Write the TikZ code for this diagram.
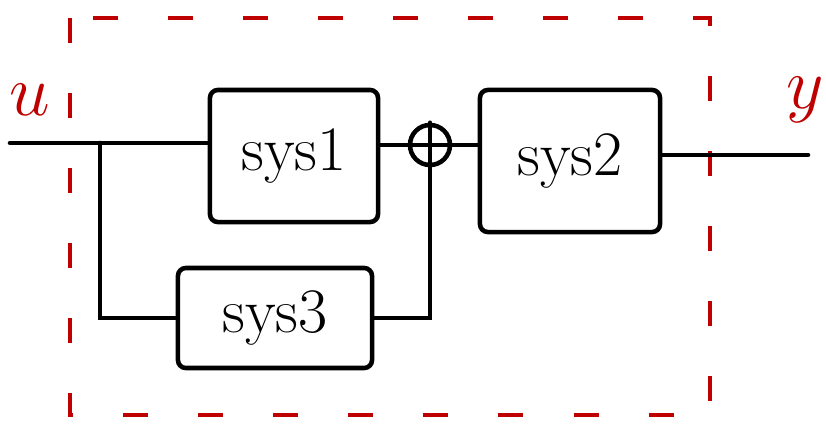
\documentclass[tikz,border=0pt]{standalone}
\usetikzlibrary{positioning}
\begin{document}
\begin{tikzpicture}[x=0.01cm,y=-0.01cm,
    wire/.style={line width=1.3pt,line cap=round},
    sysbox/.style={draw,line width=1.3pt,rounded corners=0.08cm,font=\fontsize{18}{20}\selectfont},
    frame/.style={draw=red!75!black,line width=0.9pt,dash pattern=on 0.25cm off 0.5cm},
    lbl/.style={text=red!75!black,font=\fontsize{20}{22}\selectfont}]
    \useasboundingbox (0,0) rectangle (826,436);
    % rand (gestrichelt)
    \draw[frame] (70,18) rectangle (710,415);
    \node[lbl] (ulabel) at (30,100) {$u$};
    \node[lbl] (ylabel) at (805,100) {$y$};
    % bloecke
    \node[sysbox,minimum width=1.68cm,minimum height=1.32cm] (sys1) at (294,156) {sys1};
    \node[sysbox,minimum width=1.80cm,minimum height=1.42cm] (sys2) at (570,161) {sys2};
    \node[sysbox,minimum width=1.94cm,minimum height=1.00cm] (sys3) at (275,318) {sys3};
    \node[draw,circle,line width=1.3pt,minimum size=0.4cm,inner sep=0pt] (sum) at (430,145) {};
    \draw[wire] (sum.north) -- (sum.south) (sum.west) -- (sum.east);
    \coordinate (u) at (10,143);
    \coordinate (branch) at (100,143);
    \coordinate (y) at (808,155);
    % verbindungen
    \draw[wire] (u) -- (u -| sys1.west);
    \draw[wire] (branch) |- (sys3.west);
    \draw[wire] (sum.west -| sys1.east) -- (sum.west);
    \draw[wire] (sum.east) -- (sum.east -| sys2.west);
    \draw[wire] (sys3.east) -| (sum.south);
    \draw[wire] (y -| sys2.east) -- (y);
\end{tikzpicture}
\end{document}
